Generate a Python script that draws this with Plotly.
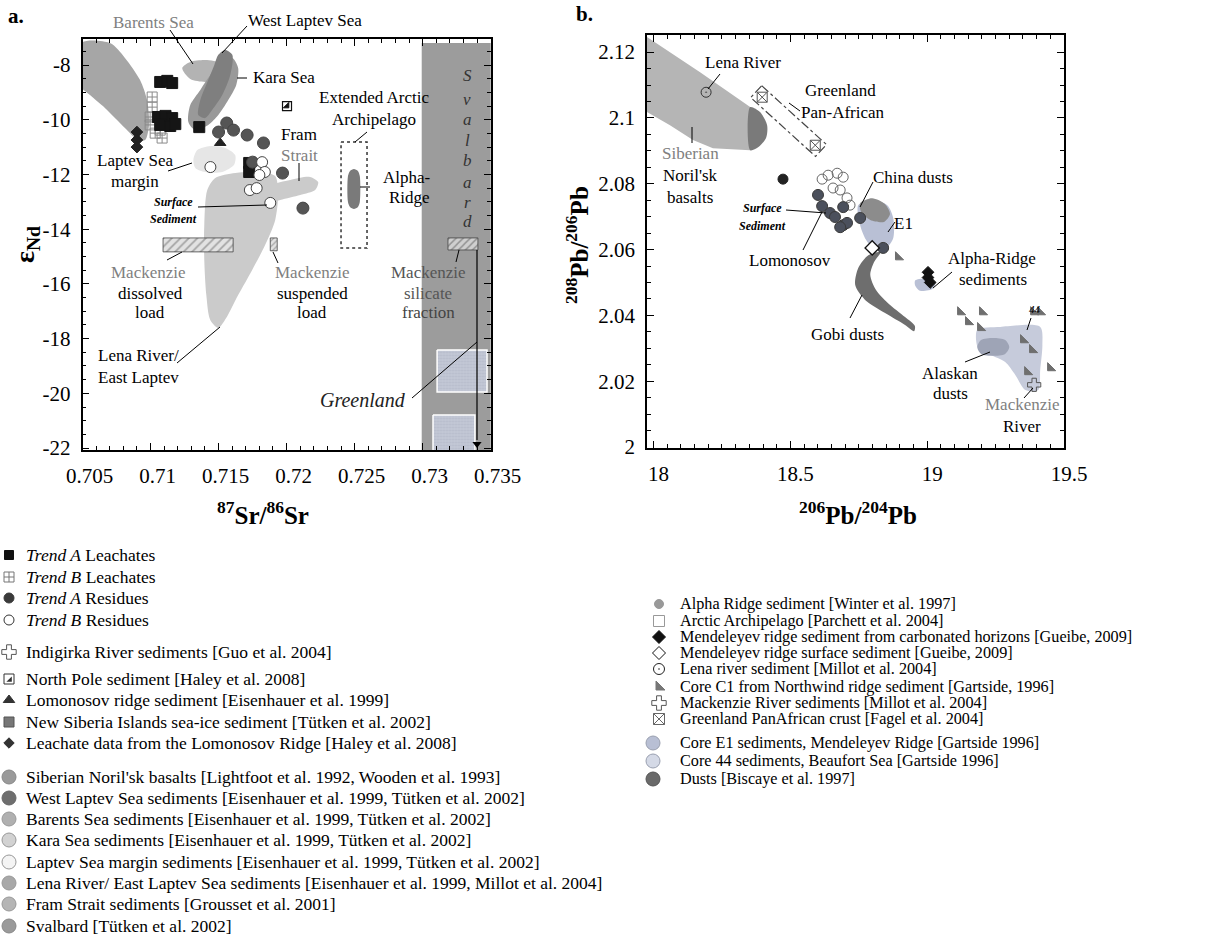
import plotly.graph_objects as go

W, H = 1225, 939
SERIF = "Liberation Serif, 'Times New Roman', serif"

# ================= Panel a : 87Sr/86Sr (x) vs eps Nd (y) =================
A_XTICKS = [0.705, 0.710, 0.715, 0.720, 0.725, 0.730, 0.735]
A_XTICKTEXT = ["0.705", "0.71", "0.715", "0.72", "0.725", "0.73", "0.735"]
A_YTICKS = [-8, -10, -12, -14, -16, -18, -20, -22]
A_YTICKTEXT = ["-8", "-10", "-12", "-14", "-16", "-18", "-20", "-22"]

SVALBARD_SR = [0.72993, 0.7356, 0.7356, 0.72993]
SVALBARD_ND = [-7.20, -7.20, -22.3, -22.3]
GREENLAND1_SR = [0.73106, 0.73473, 0.73473, 0.73106]
GREENLAND1_ND = [-18.42, -18.42, -19.95, -19.95]
GREENLAND2_SR = [0.73076, 0.73384, 0.73384, 0.73076]
GREENLAND2_ND = [-20.79, -20.79, -22.3, -22.3]
NORILSK_A_SR = [0.7049, 0.70702, 0.70812, 0.70923, 0.70974, 0.70989, 0.70960, 0.70908, 0.70812, 0.70665, 0.70555, 0.7049]
NORILSK_A_ND = [-7.20, -7.20, -7.74, -8.55, -9.28, -10.19, -10.74, -10.74, -10.30, -9.57, -9.10, -8.80]
BARENTS_SR = [0.71233, 0.71292, 0.71402, 0.71527, 0.71601, 0.71586, 0.71512, 0.71402, 0.71292]
BARENTS_ND = [-8.11, -7.89, -7.82, -7.93, -8.18, -8.48, -8.62, -8.62, -8.51]
KARA_SR = [0.71512, 0.71601, 0.71644, 0.71630, 0.71571, 0.71498, 0.71424, 0.71329, 0.71278, 0.71292, 0.71366, 0.71439]
KARA_ND = [-7.89, -7.74, -8.11, -8.73, -9.28, -9.83, -10.19, -10.38, -10.08, -9.46, -8.91, -8.37]
WLAPTEV_SR = [0.71498, 0.71549, 0.71601, 0.71586, 0.71527, 0.71454, 0.71402, 0.71351, 0.71366, 0.71424, 0.71469]
WLAPTEV_ND = [-7.63, -7.45, -7.63, -8.37, -9.10, -9.64, -9.94, -9.83, -9.28, -8.55, -8.00]
LMARGIN_SR = [0.71315, 0.71344, 0.71439, 0.71549, 0.71622, 0.71614, 0.71527, 0.71402, 0.71329]
LMARGIN_ND = [-11.47, -11.11, -10.96, -11.03, -11.29, -11.65, -11.91, -11.91, -11.76]
LENA_A_SR = [0.71417, 0.71476, 0.71623, 0.71806, 0.71916, 0.71937, 0.71916, 0.71842, 0.71747, 0.71644,
             0.71556, 0.71498, 0.71439, 0.71410, 0.71395, 0.71395]
LENA_A_ND = [-12.57, -12.13, -11.95, -11.91, -12.06, -12.75, -13.67, -14.58, -15.49, -16.41,
             -17.25, -17.61, -17.32, -16.41, -15.13, -13.85]
FRAM_SR = [0.71769, 0.71879, 0.72026, 0.72172, 0.72232, 0.72210, 0.72100, 0.71953, 0.71821]
FRAM_ND = [-12.75, -12.39, -12.20, -12.09, -12.28, -12.57, -12.75, -12.93, -13.12]
ALPHA_A_SR = [0.72451, 0.72466, 0.72495, 0.72524, 0.72538, 0.72538, 0.72524, 0.72495, 0.72466, 0.72451]
ALPHA_A_ND = [-12.06, -11.87, -11.80, -11.87, -12.06, -13.01, -13.19, -13.26, -13.19, -13.01]
ARCHIPELAGO_SR = [0.72400, 0.72591, 0.72591, 0.72400, 0.72400]
ARCHIPELAGO_ND = [-10.81, -10.81, -14.69, -14.69, -10.81]
MACK_DISS_SR = [0.71092, 0.71607, 0.71607, 0.71092]
MACK_DISS_ND = [-14.32, -14.32, -14.83, -14.83]
MACK_SUSP_SR = [0.71880, 0.71931, 0.71931, 0.71880]
MACK_SUSP_ND = [-14.32, -14.32, -14.79, -14.79]
MACK_SIL_SR = [0.73186, 0.73406, 0.73406, 0.73186]
MACK_SIL_ND = [-14.32, -14.32, -14.76, -14.76]

TA_LEACH_SR = [0.71071, 0.71123, 0.71159, 0.71054, 0.71110, 0.71159, 0.71071, 0.71145, 0.71182, 0.71358, 0.71725, 0.71725]
TA_LEACH_ND = [-8.62, -8.58, -8.66, -9.90, -9.86, -9.94, -10.19, -10.23, -10.16, -10.27, -11.58, -11.91]
TB_LEACH_SR = [0.71012, 0.71012, 0.70997, 0.70997, 0.71071, 0.71085, 0.71034]
TB_LEACH_ND = [-9.17, -9.54, -9.90, -10.19, -10.38, -10.67, -10.49]
TA_RES_SR = [0.7150, 0.7156, 0.7161, 0.7171, 0.7183, 0.7197, 0.7212, 0.7175]
TA_RES_ND = [-10.45, -10.12, -10.38, -10.56, -10.85, -11.95, -13.23, -11.55]
TB_RES_SR = [0.7182, 0.7184, 0.7180, 0.7173, 0.7178, 0.7188, 0.7144]
TB_RES_ND = [-11.55, -11.91, -12.02, -12.57, -12.50, -13.04, -11.73]
LOMO_LEACH_SR = [0.70900, 0.70900, 0.70900]
LOMO_LEACH_ND = [-10.45, -10.74, -11.00]
LOMO_SED_SR = [0.71512]
LOMO_SED_ND = [-10.85]
NPOLE_SR = [0.72003]
NPOLE_ND = [-9.50]

# ================= Panel b : 206Pb/204Pb (x) vs 208Pb/206Pb (y) =================
B_XTICKS = [18, 18.5, 19, 19.5]
B_XTICKTEXT = ["18", "18.5", "19", "19.5"]
B_YTICKS = [2.0, 2.02, 2.04, 2.06, 2.08, 2.1, 2.12]
B_YTICKTEXT = ["2", "2.02", "2.04", "2.06", "2.08", "2.1", "2.12"]

NORILSK_B_PB6 = [17.95, 18.170, 18.353, 18.353, 18.217, 18.144, 18.060, 17.95]
NORILSK_B_PB8 = [2.1260, 2.1139, 2.1033, 2.0902, 2.0908, 2.0933, 2.0978, 2.1030]
NORILSK_CAP_PB6 = [18.353, 18.389, 18.415, 18.411, 18.382, 18.353]
NORILSK_CAP_PB8 = [2.1033, 2.1018, 2.0978, 2.0939, 2.0911, 2.0902]
PANAF_BOX_PB6 = [18.395, 18.632, 18.592, 18.355, 18.395]
PANAF_BOX_PB8 = [2.1098, 2.0919, 2.0883, 2.1062, 2.1098]
CHINA_PB6 = [18.755, 18.799, 18.846, 18.864, 18.842, 18.792, 18.759]
CHINA_PB8 = [2.0741, 2.0756, 2.0738, 2.0708, 2.0684, 2.0690, 2.0714]
E1_PB6 = [18.748, 18.799, 18.854, 18.876, 18.876, 18.854, 18.806, 18.777, 18.755]
E1_PB8 = [2.0735, 2.0750, 2.0735, 2.0696, 2.0635, 2.0608, 2.0602, 2.0629, 2.0674]
GOBI_PB6 = [18.829, 18.785, 18.748, 18.737, 18.773, 18.846, 18.919, 18.952, 18.955, 18.919, 18.857, 18.813, 18.792, 18.806]
GOBI_PB8 = [2.0592, 2.0583, 2.0544, 2.0492, 2.0447, 2.0407, 2.0371, 2.0352, 2.0368, 2.0395, 2.0437, 2.0477, 2.0523, 2.0562]
ALPHA_B_PB6 = [18.956, 18.993, 19.029, 19.022, 18.974, 18.956]
ALPHA_B_PB8 = [2.0506, 2.0512, 2.0503, 2.0482, 2.0475, 2.0491]
CORE44_PB6 = [19.183, 19.267, 19.413, 19.421, 19.413, 19.406, 19.359, 19.322, 19.285, 19.230, 19.186]
CORE44_PB8 = [2.0356, 2.0365, 2.0365, 2.0310, 2.0234, 2.0173, 2.0173, 2.0219, 2.0258, 2.0280, 2.0301]
ALASKA_PB6 = [19.183, 19.197, 19.241, 19.285, 19.300, 19.285, 19.241, 19.197]
ALASKA_PB8 = [2.0304, 2.0325, 2.0331, 2.0325, 2.0304, 2.0283, 2.0277, 2.0283]

LENA_B_PB6 = [18.192]
LENA_B_PB8 = [2.1078]
PANAF_PB6 = [18.397, 18.591]
PANAF_PB8 = [2.1063, 2.0917]
SOLO_PB6 = [18.473]
SOLO_PB8 = [2.0814]
TB_RES_B_PB6 = [18.616, 18.638, 18.671, 18.693, 18.656, 18.682, 18.707, 18.718]
TB_RES_B_PB8 = [2.0814, 2.0826, 2.0832, 2.0820, 2.0787, 2.0781, 2.0757, 2.0735]
TA_RES_B_PB6 = [18.601, 18.616, 18.645, 18.663, 18.693, 18.707, 18.682, 18.693, 18.755, 18.839]
TA_RES_B_PB8 = [2.0766, 2.0732, 2.0711, 2.0699, 2.0674, 2.0681, 2.0668, 2.0729, 2.0696, 2.0605]
MEND_SURF_PB6 = [18.799]
MEND_SURF_PB8 = [2.0605]
MEND_CARB_PB6 = [19.003, 19.003, 19.011]
MEND_CARB_PB8 = [2.0531, 2.0515, 2.0500]
C1_PB6 = [18.894, 19.121, 19.150, 19.194, 19.201, 19.351, 19.384, 19.366, 19.450, 19.388, 19.413]
C1_PB8 = [2.0577, 2.0410, 2.0380, 2.0362, 2.0410, 2.0325, 2.0295, 2.0228, 2.0240, 2.0410, 2.0410]
MACK_RIVER_PB6 = [19.391]
MACK_RIVER_PB8 = [2.0189]

# ================= Legend texts =================
LEG_A_TEXT = [
    "<i>Trend A</i> Leachates", "<i>Trend B</i> Leachates", "<i>Trend A</i> Residues", "<i>Trend B</i> Residues",
    "Indigirka River sediments [Guo et al. 2004]", "North Pole sediment [Haley et al. 2008]",
    "Lomonosov ridge sediment [Eisenhauer et al. 1999]",
    "New Siberia Islands sea-ice sediment [Tütken et al. 2002]",
    "Leachate data from the Lomonosov Ridge [Haley et al. 2008]",
    "Siberian Noril'sk basalts [Lightfoot et al. 1992, Wooden et al. 1993]",
    "West Laptev Sea sediments [Eisenhauer et al. 1999, Tütken et al. 2002]",
    "Barents Sea sediments [Eisenhauer et al. 1999, Tütken et al. 2002]",
    "Kara Sea sediments [Eisenhauer et al. 1999, Tütken et al. 2002]",
    "Laptev Sea margin sediments [Eisenhauer et al. 1999, Tütken et al. 2002]",
    "Lena River/ East Laptev Sea sediments [Eisenhauer et al. 1999, Millot et al. 2004]",
    "Fram Strait sediments [Grousset et al. 2001]",
    "Svalbard [Tütken et al. 2002]",
]
LEG_B_TEXT = [
    "Alpha Ridge sediment [Winter et al. 1997]", "Arctic Archipelago [Parchett et al. 2004]",
    "Mendeleyev ridge sediment from carbonated horizons [Gueibe, 2009]",
    "Mendeleyev ridge surface sediment [Gueibe, 2009]", "Lena river sediment [Millot et al. 2004]",
    "Core C1 from Northwind ridge sediment [Gartside, 1996]",
    "Mackenzie River sediments [Millot et al. 2004]", "Greenland PanAfrican crust [Fagel et al. 2004]",
    "Core E1 sediments, Mendeleyev Ridge [Gartside 1996]", "Core 44 sediments, Beaufort Sea [Gartside 1996]",
    "Dusts [Biscaye et al. 1997]",
]

# ---- layout-only positions / styles for the legend (pixel positions) ----
LEG_A_Y = [555, 577, 598, 620, 652, 679, 700, 722, 743, 777, 798, 819, 840, 862, 883, 904, 926]
LEG_A_STYLE = [
    ("square", "#111", 9, "#111"), ("square-cross-open", "#777", 10, "#777"), ("circle", "#3a3a3a", 10, "#3a3a3a"),
    ("circle-open", "#333", 10, "#333"), ("cross-open", "#555", 12, "#555"), ("square-open", "#333", 10, "#333"),
    ("triangle-up", "#333", 10, "#333"), ("square", "#777", 10, "#555"), ("diamond", "#333", 8, "#333"),
    ("circle", "#9a9a9a", 14, "#888"), ("circle", "#6e6e6e", 14, "#666"), ("circle", "#b0b0b0", 14, "#999"),
    ("circle", "#d2d2d2", 14, "#999"), ("circle", "#f4f4f4", 14, "#999"), ("circle", "#a8a8a8", 14, "#999"),
    ("circle", "#b5b5b5", 14, "#999"), ("circle", "#9a9a9a", 14, "#888"),
]
LEG_B_Y = [604, 621, 637, 653, 669, 687, 703, 719, 743, 761, 779]
LEG_B_STYLE = [
    ("circle", "#999", 9, "#999"), ("square-open", "#999", 11, "#999"), ("diamond", "#111", 10, "#111"),
    ("diamond-open", "#111", 10, "#111"), ("circle-open-dot", "#222", 11, "#222"), ("triangle-sw", "#777", 10, "#777"),
    ("cross-open", "#555", 12, "#555"), ("square-x-open", "#666", 11, "#666"),
    ("circle", "#b8bfd4", 14, "#9aa0b0"), ("circle", "#d4d9e6", 14, "#9aa0b0"), ("circle", "#6a6a6a", 14, "#555"),
]

fig = go.Figure()


def poly(x, y, fill, line="rgba(0,0,0,0)", xa="x", ya="y", spline=True, width=0.8, dash="solid", pattern=None,
         close=True):
    xs, ys = list(x), list(y)
    if close:
        xs.append(xs[0]); ys.append(ys[0])
    kw = dict(x=xs, y=ys, mode="lines", fill="toself", fillcolor=fill,
              line=dict(color=line, width=width, dash=dash, shape="spline" if spline else "linear",
                        smoothing=0.8 if spline else 0),
              xaxis=xa, yaxis=ya, hoverinfo="skip")
    if pattern:
        kw["fillpattern"] = pattern
    fig.add_trace(go.Scatter(**kw))


def pts(x, y, symbol, color, size, xa="x", ya="y", lc=None, lw=1):
    fig.add_trace(go.Scatter(x=x, y=y, mode="markers", xaxis=xa, yaxis=ya, hoverinfo="skip",
                             marker=dict(symbol=symbol, color=color, size=size,
                                         line=dict(color=lc or color, width=lw))))


# ----- Panel a fields -----
poly(SVALBARD_SR, SVALBARD_ND, "#9c9c9c", spline=False)
poly(GREENLAND1_SR, GREENLAND1_ND, "#bcc1d0", line="white", spline=False, width=1.5,
     pattern=dict(shape=".", fgcolor="#a9aebf", bgcolor="#c3c8d6", size=3, solidity=0.4))
poly(GREENLAND2_SR, GREENLAND2_ND, "#bcc1d0", line="white", spline=False, width=1.5,
     pattern=dict(shape=".", fgcolor="#a9aebf", bgcolor="#c3c8d6", size=3, solidity=0.4))
poly(LENA_A_SR, LENA_A_ND, "#cbcbcb")
poly(FRAM_SR, FRAM_ND, "#cbcbcb")
poly(NORILSK_A_SR, NORILSK_A_ND, "#a6a6a6")
poly(BARENTS_SR, BARENTS_ND, "#b3b3b3")
poly(KARA_SR, KARA_ND, "#999999")
poly(WLAPTEV_SR, WLAPTEV_ND, "#7f7f7f")
poly(LMARGIN_SR, LMARGIN_ND, "#e6e6e6")
poly(MACK_DISS_SR, MACK_DISS_ND, "#e2e2e2", line="#444", spline=False,
     pattern=dict(shape="/", fgcolor="#666", bgcolor="#e2e2e2", size=6, solidity=0.3))
poly(MACK_SUSP_SR, MACK_SUSP_ND, "#e2e2e2", line="#444", spline=False,
     pattern=dict(shape="/", fgcolor="#666", bgcolor="#e2e2e2", size=4, solidity=0.3))
poly(MACK_SIL_SR, MACK_SIL_ND, "#cfcfcf", line="#444", spline=False,
     pattern=dict(shape="/", fgcolor="#555", bgcolor="#cfcfcf", size=5, solidity=0.3))
poly(ALPHA_A_SR, ALPHA_A_ND, "#7a7a7a")
fig.add_trace(go.Scatter(x=ARCHIPELAGO_SR, y=ARCHIPELAGO_ND, mode="lines", xaxis="x", yaxis="y",
                         line=dict(color="#333", width=1.5, dash="dot"), hoverinfo="skip"))

# ----- Panel a points -----
pts(TB_LEACH_SR, TB_LEACH_ND, "square-cross-open", "#8a8a8a", 10)
pts(TA_LEACH_SR, TA_LEACH_ND, "square", "#151515", 11)
pts(LOMO_LEACH_SR, LOMO_LEACH_ND, "diamond", "#222", 9)
pts(LOMO_SED_SR, LOMO_SED_ND, "triangle-up", "#222", 10)
pts(TA_RES_SR, TA_RES_ND, "circle", "#555", 12, lc="#444")
pts(TB_RES_SR, TB_RES_ND, "circle", "white", 11, lc="#444")
pts(NPOLE_SR, NPOLE_ND, "square", "white", 9, lc="#111", lw=1.2)
pts(NPOLE_SR, NPOLE_ND, "triangle-se", "#111", 6)

# ----- Panel b fields -----
poly(NORILSK_B_PB6, NORILSK_B_PB8, "#b5b5b5", xa="x2", ya="y2", spline=False)
poly(NORILSK_CAP_PB6, NORILSK_CAP_PB8, "#7a7a7a", xa="x2", ya="y2")
fig.add_trace(go.Scatter(x=PANAF_BOX_PB6, y=PANAF_BOX_PB8, mode="lines", xaxis="x2", yaxis="y2",
                         line=dict(color="#444", width=1.2, dash="dashdot"), hoverinfo="skip"))
poly(E1_PB6, E1_PB8, "#b9c0d5", xa="x2", ya="y2")
poly(CHINA_PB6, CHINA_PB8, "#8c8c8c", xa="x2", ya="y2")
poly(GOBI_PB6, GOBI_PB8, "#6e6e6e", xa="x2", ya="y2")
poly(ALPHA_B_PB6, ALPHA_B_PB8, "#b9c0d5", xa="x2", ya="y2")
poly(CORE44_PB6, CORE44_PB8, "#c6cbdb", xa="x2", ya="y2")
poly(ALASKA_PB6, ALASKA_PB8, "#9ea4b6", xa="x2", ya="y2")

# ----- Panel b points -----
pts(LENA_B_PB6, LENA_B_PB8, "circle-open-dot", "#333", 10, xa="x2", ya="y2")
pts(PANAF_PB6, PANAF_PB8, "square-x-open", "#555", 10, xa="x2", ya="y2")
pts(SOLO_PB6, SOLO_PB8, "circle", "#222", 10, xa="x2", ya="y2")
pts(TB_RES_B_PB6, TB_RES_B_PB8, "circle-open", "#666", 10, xa="x2", ya="y2")
pts(TA_RES_B_PB6, TA_RES_B_PB8, "circle", "#4b505c", 11, xa="x2", ya="y2", lc="#3a3a3a")
pts(MEND_SURF_PB6, MEND_SURF_PB8, "diamond", "white", 11, xa="x2", ya="y2", lc="#111", lw=1.3)
pts(MEND_CARB_PB6, MEND_CARB_PB8, "diamond", "#111", 9, xa="x2", ya="y2")
pts(C1_PB6, C1_PB8, "triangle-sw", "#6f6f6f", 9, xa="x2", ya="y2")
pts(MACK_RIVER_PB6, MACK_RIVER_PB8, "cross-open", "#555", 11, xa="x2", ya="y2")

# ----- legend markers on an invisible pixel-scaled axis -----
for (sym, col, sz, lc), yy in zip(LEG_A_STYLE, LEG_A_Y):
    fig.add_trace(go.Scatter(x=[9], y=[yy], mode="markers", xaxis="x3", yaxis="y3", hoverinfo="skip",
                             marker=dict(symbol=sym, color=col, size=sz, line=dict(color=lc, width=1))))
fig.add_trace(go.Scatter(x=[10], y=[LEG_A_Y[5] + 1], mode="markers", xaxis="x3", yaxis="y3", hoverinfo="skip",
                         marker=dict(symbol="triangle-se", color="#333", size=6)))
for i, ((sym, col, sz, lc), yy) in enumerate(zip(LEG_B_STYLE, LEG_B_Y)):
    fig.add_trace(go.Scatter(x=[653 if i >= 8 else 659], y=[yy], mode="markers", xaxis="x3", yaxis="y3",
                             hoverinfo="skip",
                             marker=dict(symbol=sym, color=col, size=sz, line=dict(color=lc, width=1))))
# arrowhead of the Greenland arrow (tiny pixel-scaled helper axis)
fig.add_trace(go.Scatter(x=[477], y=[444], mode="markers", xaxis="x4", yaxis="y4", hoverinfo="skip",
                         marker=dict(symbol="triangle-down", color="black", size=8)))

# ================= annotations =================
ann = []
shapes = []


def lab(text, x, y, size=17, color="black", italic=False, bold=False, xanchor="center", angle=0):
    if italic:
        text = f"<i>{text}</i>"
    if bold:
        text = f"<b>{text}</b>"
    ann.append(dict(text=text, x=x / W, y=1 - y / H, xref="paper", yref="paper", showarrow=False,
                    font=dict(family=SERIF, size=size, color=color), xanchor=xanchor, yanchor="middle",
                    textangle=angle))


def seg(x0, y0, x1, y1, color="black", width=1, dash="solid"):
    shapes.append(dict(type="line", xref="paper", yref="paper", x0=x0 / W, y0=1 - y0 / H, x1=x1 / W,
                       y1=1 - y1 / H, line=dict(color=color, width=width, dash=dash)))


GR = "#808080"
# panel a labels
lab("a.", 16, 16, 21, bold=True)
lab("Barents Sea", 153, 23, 17, GR)
lab("West Laptev Sea", 305, 21)
lab("Kara Sea", 284, 78)
lab("Extended Arctic", 374, 98)
lab("Archipelago", 374, 119)
lab("Fram", 299, 135)
lab("Strait", 299, 155, 17, GR)
lab("Alpha-", 407, 178)
lab("Ridge", 409, 198)
lab("Laptev Sea", 135, 160)
lab("margin", 135, 181)
lab("<b>Surface</b>", 173, 202, 12, italic=True)
lab("<b>Sediment</b>", 173, 219, 12, italic=True)
lab("Mackenzie", 148, 272, 17, GR)
lab("dissolved", 150, 293)
lab("load", 150, 313)
lab("Mackenzie", 312, 272, 17, GR)
lab("suspended", 312, 293)
lab("load", 312, 313)
lab("Mackenzie", 428, 272, 17, "#555")
lab("silicate", 428, 293, 17, "#555")
lab("fraction", 428, 313, 17, "#444")
lab("Lena River/", 138, 355)
lab("East Laptev", 138, 377)
lab("Greenland", 363, 400, 20, "#222", italic=True)
for ch, yy in zip("Svalbard", [76, 99, 119, 140, 160, 182, 202, 222]):
    lab(ch, 467, yy, 17, "#333", italic=True)

seg(170, 30, 193, 64)
seg(247, 26, 222, 53)
seg(237, 78, 247, 78)
seg(367, 132, 355, 142)
seg(299, 163, 299, 181)
seg(360, 187, 370, 187)
seg(168, 171, 192, 163)
seg(198, 207, 267, 205)
seg(167, 260, 182, 252)
seg(273, 252, 278, 263)
seg(459, 250, 456, 262)
seg(177, 363, 220, 327)
seg(412, 398, 477, 342)
seg(477, 250, 477, 440, width=1.2)

# panel b labels
lab("b.", 584, 14, 21, bold=True)
lab("Lena River", 743, 63)
lab("Greenland", 840, 90)
lab("Pan-African", 843, 112)
lab("Siberian", 690, 153, 17, GR)
lab("Noril'sk", 690, 175)
lab("basalts", 690, 197)
lab("China dusts", 913, 178)
lab("E1", 903, 223)
lab("<b>Surface</b>", 762, 208, 12, italic=True)
lab("<b>Sediment</b>", 762, 226, 12, italic=True)
lab("Lomonosov", 790, 260)
lab("Gobi dusts", 847, 335)
lab("Alpha-Ridge", 992, 258)
lab("sediments", 993, 279)
lab("Alaskan", 950, 373)
lab("dusts", 950, 393)
lab("Mackenzie", 1022, 405, 17, GR)
lab("River", 1022, 427)
lab("44", 1035, 309, 11, italic=True)

seg(720, 74, 708, 89)
seg(692, 127, 692, 143)
seg(789, 103, 800, 111)
seg(873, 182, 860, 207)
seg(888, 232, 895, 222)
seg(786, 210, 826, 213)
seg(803, 250, 822, 212)
seg(850, 318, 862, 295)
seg(933, 288, 952, 272)
seg(965, 362, 990, 352)
seg(1024, 398, 1033, 388)
seg(1031, 318, 1027, 330)

# axis titles
lab("<sup>87</sup>Sr/<sup>86</sup>Sr", 263, 513, 25, bold=True)
lab("ε<sub>Nd</sub>", 26, 245, 28, bold=True, angle=-90)
lab("<sup>208</sup>Pb/<sup>206</sup>Pb", 577, 245, 25, bold=True, angle=-90)
lab("<sup>206</sup>Pb/<sup>204</sup>Pb", 858, 513, 25, bold=True)

# legend texts
for t, yy in zip(LEG_A_TEXT, LEG_A_Y):
    lab(t, 24, yy, 17.5, xanchor="left")
for t, yy in zip(LEG_B_TEXT, LEG_B_Y):
    lab(t, 678, yy, 16.2, xanchor="left")

# ================= axes =================
def axis(domain, rng, tickvals, ticktext, minor_vals, anchor, shift=0):
    return dict(domain=domain, range=rng, anchor=anchor, tickmode="array", tickvals=tickvals, ticktext=ticktext,
                showline=True, linecolor="black", linewidth=1.5, mirror="ticks", ticks="inside", ticklen=7,
                tickwidth=1.2, tickcolor="black", showgrid=False, zeroline=False, ticklabelstandoff=6,
                ticklabelshift=shift, automargin=False, tickfont=dict(family=SERIF, size=21, color="black"),
                minor=dict(tickmode="array", tickvals=minor_vals, ticks="inside", ticklen=4, tickcolor="black",
                           tickwidth=1, showgrid=False))


a_xminor = [round(0.705 + 0.001 * i, 3) for i in range(31)]
a_yminor = [-22 + 0.5 * i for i in range(31)]
b_xminor = [round(18 + 0.05 * i, 2) for i in range(31)]
b_yminor = [round(2.0 + 0.005 * i, 3) for i in range(26)]

fig.update_layout(
    width=W, height=H, margin=dict(l=0, r=0, t=0, b=0, autoexpand=False), showlegend=False,
    plot_bgcolor="white", paper_bgcolor="white", font=dict(family=SERIF),
    xaxis=axis([82.5 / W, 490.7 / W], [0.705, 0.735], A_XTICKS, A_XTICKTEXT, a_xminor, "y", shift=7),
    yaxis=axis([1 - 450 / H, 1 - 39 / H], [-22.07, -7.05], A_YTICKS, A_YTICKTEXT, a_yminor, "x"),
    xaxis2=axis([647 / W, 1064 / W], [17.976, 19.5], B_XTICKS, B_XTICKTEXT, b_xminor, "y2", shift=5),
    yaxis2=axis([1 - 448 / H, 1 - 35 / H], [1.9997, 2.1252], B_YTICKS, B_YTICKTEXT, b_yminor, "x2"),
    xaxis3=dict(domain=[0, 1], range=[0, W], visible=False, anchor="y3", fixedrange=True, automargin=False),
    yaxis3=dict(domain=[0, 0.47], range=[H, H - 0.47 * H], visible=False, anchor="x3", fixedrange=True,
                automargin=False),
    xaxis4=dict(domain=[476 / W, 478 / W], range=[476, 478], visible=False, anchor="y4", fixedrange=True,
                automargin=False),
    yaxis4=dict(domain=[1 - 446 / H, 1 - 442 / H], range=[446, 442], visible=False, anchor="x4",
                fixedrange=True, automargin=False),
    annotations=ann, shapes=shapes,
)
fig.data[-1].update(cliponaxis=False)

fig.write_html("out.html")
